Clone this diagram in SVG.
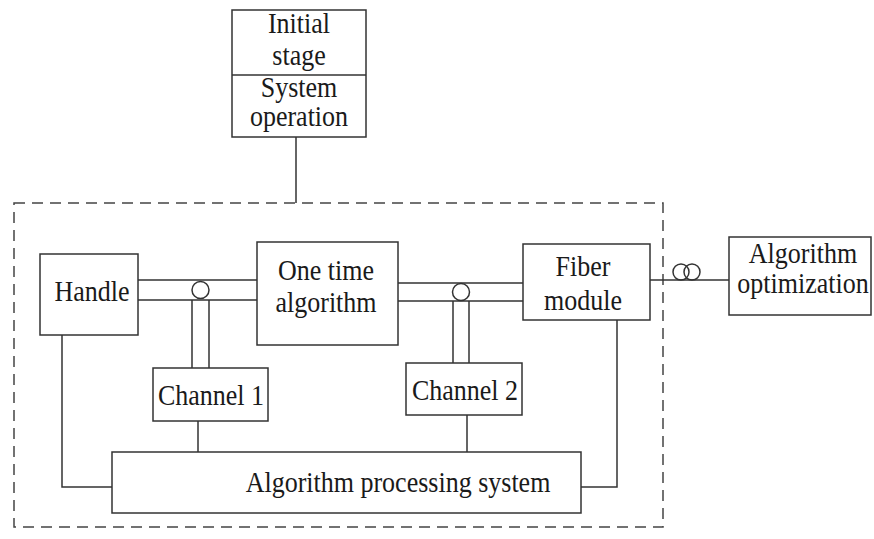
<svg xmlns="http://www.w3.org/2000/svg" width="874" height="539" viewBox="0 0 874 539">
<style>
.b{fill:#fff;stroke:#333;stroke-width:1.5}
.c{fill:none;stroke:#333;stroke-width:1.5}
.d{fill:none;stroke:#444;stroke-width:1.5;stroke-dasharray:11 7}
.t{font-family:"Liberation Serif","Times New Roman",serif;font-size:26px;fill:#1a1a1a;text-anchor:middle}
</style>
<rect width="874" height="539" fill="#fff"/>
<g id="boundary"><rect class="d" x="14" y="203" width="649" height="324"/></g>
<g id="connectors">
<path class="c" d="M296 137V203"/>
<path class="c" d="M138 280H257M138 300H257"/>
<path class="c" d="M192 300V368M209 300V368"/>
<circle class="c" cx="200.5" cy="290" r="8.5"/>
<path class="c" d="M398 283H523M398 301H523"/>
<path class="c" d="M453 301V363M469 301V363"/>
<circle class="c" cx="461" cy="292" r="8.5"/>
<path class="c" d="M62 335V487H112"/>
<path class="c" d="M617 320V487H581"/>
<path class="c" d="M198 421V452M467 415V452"/>
<path class="c" d="M650 280H729"/>
<circle class="c" cx="681" cy="272" r="8"/>
<circle class="c" cx="692" cy="272" r="8"/>
</g>
<g id="top">
<rect class="b" x="232" y="10" width="134" height="127"/>
<path class="c" d="M232 75H366"/>
<text class="t" transform="translate(299 33) scale(1 1.1)">Initial</text>
<text class="t" transform="translate(299 65) scale(1 1.1)">stage</text>
<text class="t" transform="translate(299 97) scale(1 1.1)">System</text>
<text class="t" transform="translate(299 126) scale(1 1.1)">operation</text>
</g>
<g id="handle"><rect class="b" x="40" y="254" width="98" height="81"/><text class="t" transform="translate(92 301) scale(1 1.1)">Handle</text></g>
<g id="onetime"><rect class="b" x="257" y="242" width="141" height="103"/><text class="t" transform="translate(326 280) scale(1 1.1)">One time</text><text class="t" transform="translate(326 312) scale(1 1.1)">algorithm</text></g>
<g id="fiber"><rect class="b" x="523" y="244" width="127" height="76"/><text class="t" transform="translate(583 276) scale(1 1.1)">Fiber</text><text class="t" transform="translate(583 310) scale(1 1.1)">module</text></g>
<g id="algopt"><rect class="b" x="729" y="237" width="142" height="78"/><text class="t" transform="translate(803 263) scale(1 1.1)">Algorithm</text><text class="t" transform="translate(803 293) scale(1 1.1)">optimization</text></g>
<g id="channel1"><rect class="b" x="153" y="368" width="115" height="53"/><text class="t" transform="translate(211 405) scale(1 1.1)">Channel 1</text></g>
<g id="channel2"><rect class="b" x="406" y="363" width="116" height="52"/><text class="t" transform="translate(465 400) scale(1 1.1)">Channel 2</text></g>
<g id="aps"><rect class="b" x="112" y="452" width="469" height="61"/><text class="t" transform="translate(398 492) scale(1 1.1)">Algorithm processing system</text></g>
</svg>
